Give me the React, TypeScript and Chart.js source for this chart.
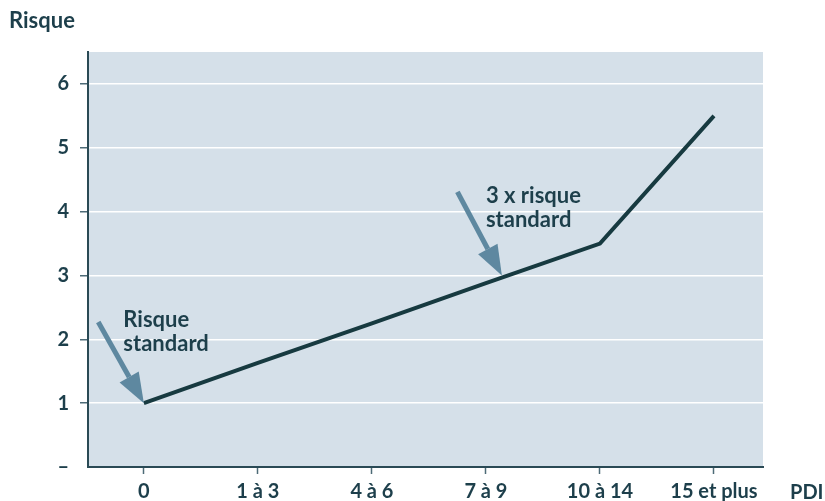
import React, { useEffect, useRef } from "react";
import { Chart, registerables } from "chart.js";

Chart.register(...registerables);

const categories = ["0", "1 à 3", "4 à 6", "7 à 9", "10 à 14", "15 et plus"];
const riskValues = [1, 1.63, 2.25, 2.88, 3.5, 5.5];
const yTickLabels = ["–", "1", "2", "3", "4", "5", "6"];
const yAxisTitle = "Risque";
const xAxisTitle = "PDI";
const annotationTexts = [["Risque", "standard"], ["3 x risque", "standard"]];
// arrow start/tip in data units, text anchor in data units
const arrowStarts = [[-0.4, 2.27], [2.75, 4.31]];
const arrowTips = [[0, 1], [3.14, 3.0]];
const textAnchors = [[-0.18, 2.2], [3.0, 4.13]];

const TEXT = "#1d3f4b";
const FONT = "Lato, sans-serif";

const bgPlugin = {
  id: "bg",
  beforeDraw(chart: any) {
    const { ctx, chartArea } = chart;
    ctx.save();
    ctx.fillStyle = "#d5e0e9";
    ctx.fillRect(chartArea.left, chartArea.top, chartArea.right - chartArea.left, chartArea.bottom - chartArea.top);
    ctx.restore();
  },
};

const annoPlugin = {
  id: "anno",
  afterDatasetsDraw(chart: any) {
    const { ctx, scales } = chart;
    const xs = scales.x, ys = scales.y;
    ctx.save();
    for (let i = 0; i < arrowStarts.length; i++) {
      const x0 = xs.getPixelForValue(arrowStarts[i][0]);
      const y0 = ys.getPixelForValue(arrowStarts[i][1]);
      const x1 = xs.getPixelForValue(arrowTips[i][0]);
      const y1 = ys.getPixelForValue(arrowTips[i][1]);
      const ang = Math.atan2(y1 - y0, x1 - x0);
      const headLen = 30, headW = 11;
      const bx = x1 - headLen * Math.cos(ang), by = y1 - headLen * Math.sin(ang);
      ctx.strokeStyle = "#5e88a0";
      ctx.fillStyle = "#5e88a0";
      ctx.lineWidth = 5;
      ctx.lineCap = "butt";
      ctx.beginPath();
      ctx.moveTo(x0, y0);
      ctx.lineTo(bx, by);
      ctx.stroke();
      ctx.beginPath();
      ctx.moveTo(x1, y1);
      ctx.lineTo(bx + headW * Math.sin(ang), by - headW * Math.cos(ang));
      ctx.lineTo(bx - headW * Math.sin(ang), by + headW * Math.cos(ang));
      ctx.closePath();
      ctx.fill();
      // text
      ctx.fillStyle = TEXT;
      ctx.font = `700 22px ${FONT}`;
      ctx.textAlign = "left";
      ctx.textBaseline = "alphabetic";
      const tx = xs.getPixelForValue(textAnchors[i][0]);
      const ty = ys.getPixelForValue(textAnchors[i][1]);
      annotationTexts[i].forEach((line, j) => ctx.fillText(line, tx, ty + j * 24));
    }
    // axis titles
    ctx.font = `700 22px ${FONT}`;
    ctx.fillStyle = TEXT;
    ctx.textAlign = "left";
    ctx.textBaseline = "alphabetic";
    ctx.fillText(yAxisTitle, 9, 28);
    ctx.font = `700 20px ${FONT}`;
    ctx.fillText(xAxisTitle, 790, 499);
    ctx.restore();
  },
};

export default function App() {
  const ref = useRef<HTMLCanvasElement>(null);
  useEffect(() => {
    const chart = new Chart(ref.current!, {
      type: "line",
      data: {
        datasets: [
          {
            data: riskValues.map((v, i) => ({ x: i, y: v })),
            borderColor: "#173a40",
            borderWidth: 4,
            pointRadius: 0,
            tension: 0,
            fill: false,
          },
        ],
      },
      options: {
        animation: false,
        responsive: false,
        layout: { padding: { top: 52, right: 62, left: 0, bottom: 0 } },
        plugins: { legend: { display: false }, tooltip: { enabled: false } },
        scales: {
          x: {
            type: "linear",
            min: -0.49,
            max: 5.43,
            afterBuildTicks: (s: any) => {
              s.ticks = categories.map((_, i) => ({ value: i }));
            },
            afterFit: (s: any) => {
              s.height = 34;
            },
            ticks: {
              callback: (v: any) => categories[v] ?? "",
              color: TEXT,
              font: { family: FONT, size: 20, weight: "700" },
              padding: 6,
              maxRotation: 0,
              autoSkip: false,
            },
            grid: { drawOnChartArea: false, drawTicks: true, tickLength: 7, tickColor: "#4d6b77", tickWidth: 1.5 },
            border: { color: "#2a4a55", width: 2 },
          },
          y: {
            min: 0,
            max: 6.5,
            afterBuildTicks: (s: any) => {
              s.ticks = yTickLabels.map((_, i) => ({ value: i }));
            },
            afterFit: (s: any) => {
              s.width = 88;
            },
            ticks: {
              callback: (v: any) => yTickLabels[v] ?? "",
              color: TEXT,
              font: { family: FONT, size: 20, weight: "700" },
              padding: 11,
            },
            grid: {
              color: (c: any) => (c.tick && c.tick.value === 0 ? "rgba(0,0,0,0)" : "#ffffff"),
              lineWidth: 1.5,
              tickLength: 8,
              tickColor: (c: any) => (c.tick && c.tick.value === 0 ? "rgba(0,0,0,0)" : "#4d6b77"),
              tickWidth: 1.5,
            },
            border: { color: "#2a4a55", width: 2 },
          },
        },
      },
      plugins: [bgPlugin, annoPlugin],
    } as any);
    return () => chart.destroy();
  }, []);
  return (
    <div style={{ position: "fixed", left: 0, top: 0, width: 825, height: 501, background: "#fff" }}>
      <canvas ref={ref} width={825} height={501} style={{ width: 825, height: 501 }} />
    </div>
  );
}
